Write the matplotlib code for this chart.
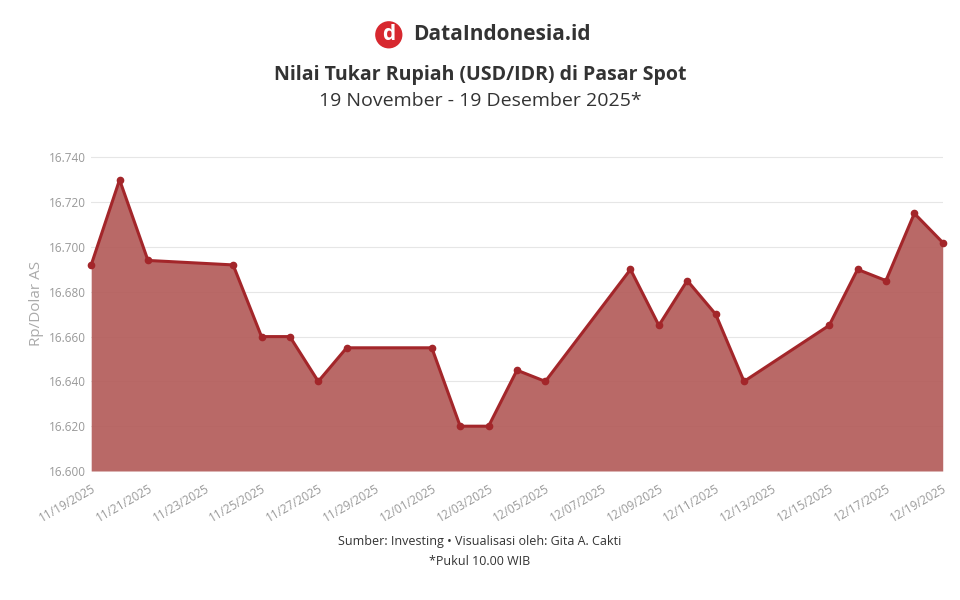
import matplotlib
matplotlib.use("Agg")
import matplotlib.pyplot as plt
import pandas as pd

plt.rcParams['font.family'] = ['Open Sans', 'DejaVu Sans']

dates = ["2025-11-19", "2025-11-20", "2025-11-21", "2025-11-24", "2025-11-25", "2025-11-26",
         "2025-11-27", "2025-11-28", "2025-12-01", "2025-12-02", "2025-12-03", "2025-12-04",
         "2025-12-05", "2025-12-08", "2025-12-09", "2025-12-10", "2025-12-11", "2025-12-12",
         "2025-12-15", "2025-12-16", "2025-12-17", "2025-12-18", "2025-12-19"]
rates = [16692, 16730, 16694, 16692, 16660, 16660, 16640, 16655, 16655, 16620, 16620, 16645,
         16640, 16690, 16665, 16685, 16670, 16640, 16665, 16690, 16685, 16715, 16702]
yticks = [16600, 16620, 16640, 16660, 16680, 16700, 16720, 16740]

x = pd.to_datetime(dates)
line_c = "#a3262a"

fig = plt.figure(figsize=(9.6, 6), dpi=100)
ax = fig.add_axes([0.095, 0.215, 0.887, 0.56])
ax.fill_between(x, rates, 16600, color="#b35c5a", alpha=0.92, lw=0)
ax.plot(x, rates, color=line_c, lw=2.2, marker="o", ms=4.5, clip_on=False)

ax.set_ylim(16600, 16750)
ax.set_xlim(x[0], x[-1])
ax.set_yticks(yticks)
ax.set_yticklabels([f"{v:,}".replace(",", ".") for v in yticks])
ticks = pd.date_range("2025-11-19", "2025-12-19", freq="2D")
ax.set_xticks(ticks)
ax.set_xticklabels([d.strftime("%m/%d/%Y") for d in ticks], rotation=30, ha="right",
                   rotation_mode="anchor")
ax.tick_params(colors="#999999", labelsize=8.5, length=0)
ax.tick_params(axis="x", pad=8)
ax.grid(axis="y", color="#e6e6e6", lw=0.8)
ax.set_axisbelow(True)
for s in ax.spines.values():
    s.set_visible(False)
ax.set_ylabel("Rp/Dolar AS", color="#aaaaaa", fontsize=11)

fig.text(0.405, 0.942, "d", color="white", fontsize=15, fontweight="bold", ha="center", va="center",
         bbox=dict(boxstyle="circle,pad=0.15", fc="#d7282f", ec="none"))
fig.text(0.43, 0.942, "DataIndonesia.id", fontsize=15, fontweight="bold", color="#333333", va="center")
fig.text(0.5, 0.875, "Nilai Tukar Rupiah (USD/IDR) di Pasar Spot", fontsize=14, fontweight="bold",
         color="#333333", ha="center", va="center")
fig.text(0.5, 0.832, "19 November - 19 Desember 2025*", fontsize=14, color="#333333", ha="center", va="center")
fig.text(0.5, 0.092, "Sumber: Investing • Visualisasi oleh: Gita A. Cakti", fontsize=9, color="#333333", ha="center")
fig.text(0.5, 0.058, "*Pukul 10.00 WIB", fontsize=9, color="#333333", ha="center")

fig.savefig("out.png", dpi=100)
